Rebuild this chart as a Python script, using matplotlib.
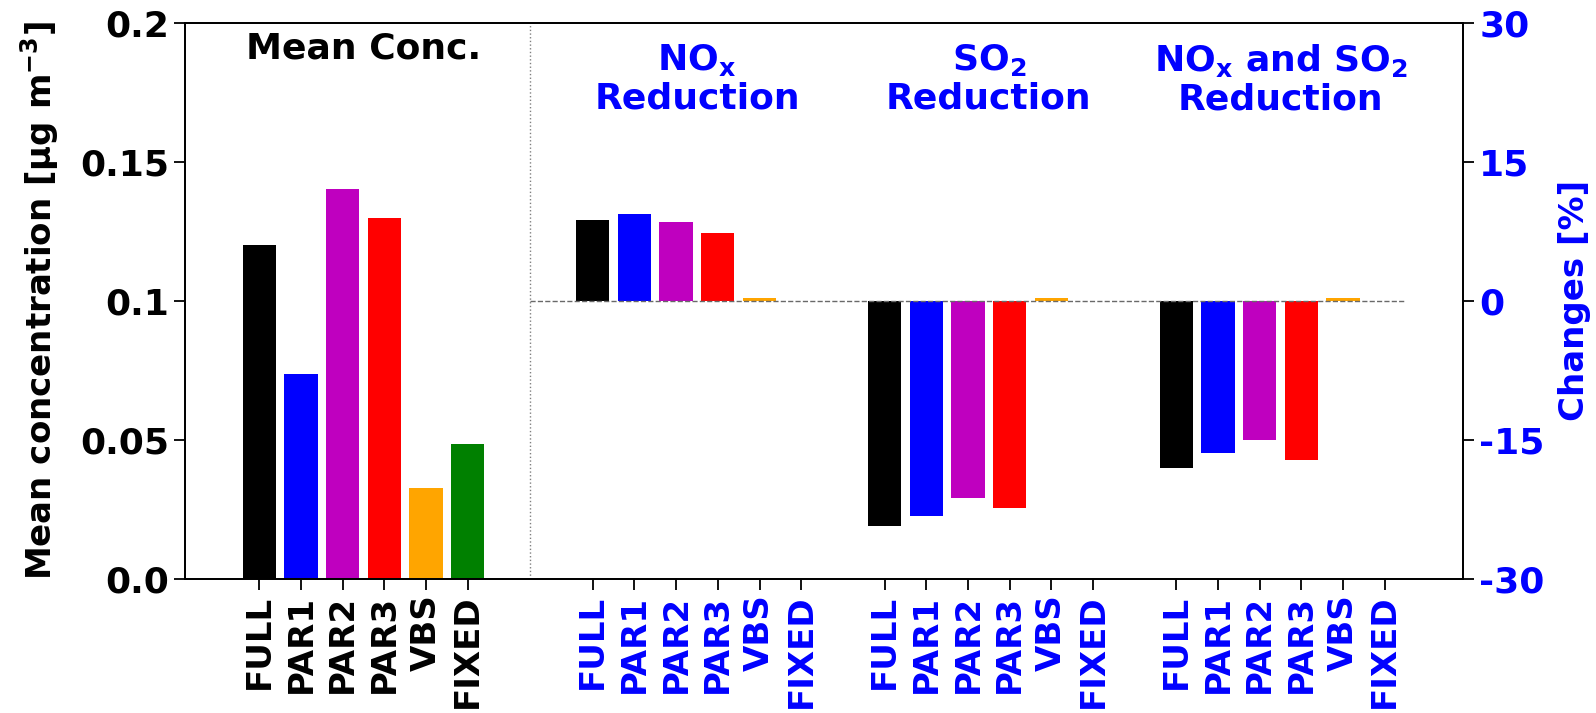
import numpy as np
import matplotlib
matplotlib.use("Agg")
import matplotlib.pyplot as plt

plt.rcParams['font.family'] = ['DejaVu Sans']
plt.rcParams['font.weight'] = 'bold'
plt.rcParams['mathtext.default'] = 'bf'

# Model configurations
schemes = ["FULL", "PAR1", "PAR2", "PAR3", "VBS", "FIXED"]
scheme_colors = ["black", "blue", "m", "red", "orange", "green"]

# Mean concentration per scheme [µg m-3]
mean_conc = [0.120, 0.0736, 0.140, 0.1296, 0.0324, 0.0483]

# Relative changes per scenario [%]
nox_change = [8.7, 9.4, 8.5, 7.3, 0.25, 0.0]
so2_change = [-24.3, -23.3, -21.3, -22.4, 0.25, 0.0]
both_change = [-18.1, -16.4, -15.1, -17.2, 0.25, 0.0]

panel_titles = ["Mean Conc.", "NO$_x$\nReduction", "SO$_2$\nReduction",
                "NO$_x$ and SO$_2$\nReduction"]
group_starts = [0, 8, 15, 22]

fig = plt.figure(figsize=(15.96, 7.13), dpi=100)
ax = fig.add_axes([0.1162, 0.1886, 0.9168 - 0.1162, 0.9682 - 0.1886])
ax2 = ax.twinx()

n = len(schemes)
x0 = np.arange(n) + group_starts[0]
ax.bar(x0, mean_conc, width=0.8, color=scheme_colors)

for start, vals in zip(group_starts[1:], [nox_change, so2_change, both_change]):
    xs = np.arange(n) + start
    ax2.bar(xs, vals, width=0.8, color=scheme_colors)

# separator between concentration panel and change panels
ax.axvline(6.5, color="gray", ls=":", lw=1)
ax2.hlines(0, 6.5, 27.45, colors="dimgray", linestyles="--", lw=1)

ax.set_xlim(-1.77, 28.88)
ax.set_ylim(0, 0.2)
ax2.set_ylim(-30, 30)

ax.set_yticks([0, 0.05, 0.1, 0.15, 0.2])
ax.set_yticklabels(["0.0", "0.05", "0.1", "0.15", "0.2"])
ax2.set_yticks([-30, -15, 0, 15, 30])
ax2.set_yticklabels(["-30", "-15", "0", "15", "30"])

fs_h = 26   # horizontal text
fs_v = 24.5 # rotated text
all_x = np.concatenate([np.arange(n) + s for s in group_starts])
ax.set_xticks(all_x)
ax.set_xticklabels(schemes * 4, rotation=90, fontsize=fs_v, fontweight="bold")
for i, lab in enumerate(ax.get_xticklabels()):
    lab.set_color("black" if i < n else "blue")

ax.tick_params(axis="y", labelsize=fs_h, length=8, width=1.3)
ax.tick_params(axis="x", length=8, width=1.3)
ax2.tick_params(axis="y", labelsize=fs_h, labelcolor="blue", length=8, width=1.3)
for t in ax.get_yticklabels() + ax2.get_yticklabels():
    t.set_fontweight("bold")

ax.set_ylabel("Mean concentration [µg m$^{-3}$]", fontsize=fs_v,
              fontweight="bold", labelpad=14)
ax2.set_ylabel("Changes [%]", fontsize=fs_v, fontweight="bold", color="blue",
               labelpad=10)

for sp in list(ax.spines.values()) + list(ax2.spines.values()):
    sp.set_linewidth(1.3)

# panel headings
ax.text(2.5, 0.197, panel_titles[0], ha="center", va="top", fontsize=fs_h,
        fontweight="bold", color="black")
for start, title in zip(group_starts[1:], panel_titles[1:]):
    ax.text(start + 2.5, 0.1932, title, ha="center", va="top", fontsize=fs_h,
            fontweight="bold", color="blue", linespacing=1.15)

fig.savefig("out.png", dpi=100)
